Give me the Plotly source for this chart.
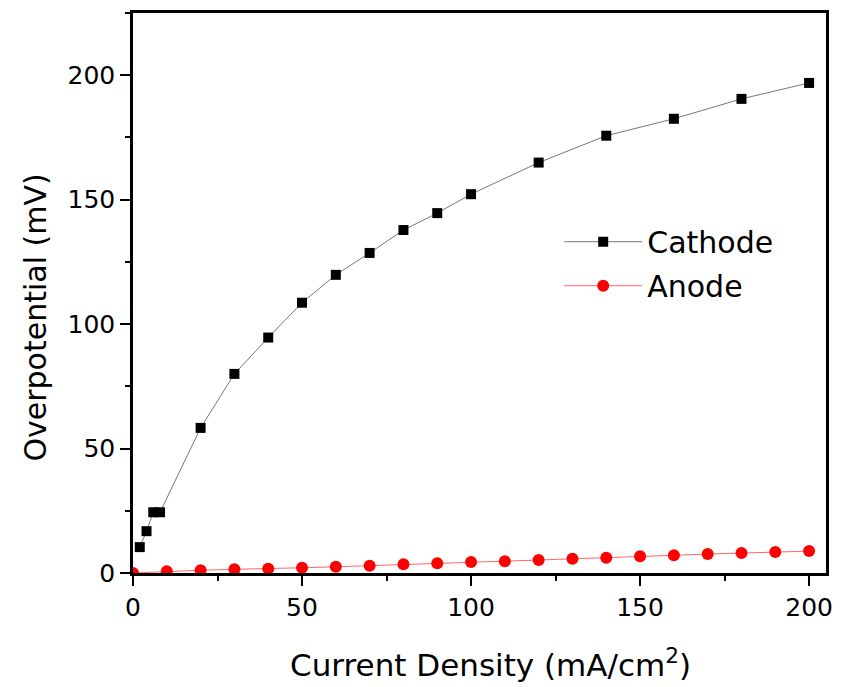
import plotly.graph_objects as go

cathode_x = [2, 4, 6, 8, 20, 30, 40, 50, 60, 70, 80, 90, 100, 120, 140, 160, 180, 200]
cathode_y = [10.4, 16.8, 24.4, 24.4, 58.3, 80.0, 94.6, 108.6, 119.8, 128.6, 137.8,
             144.6, 152.2, 164.9, 175.7, 182.5, 190.5, 196.9]

anode_x = [0, 10, 20, 30, 40, 50, 60, 70, 80, 90, 100, 110, 120, 130, 140, 150,
           160, 170, 180, 190, 200]
anode_y = [0.0, 0.7, 1.1, 1.5, 1.7, 2.1, 2.5, 2.9, 3.5, 3.9, 4.4, 4.7, 5.2, 5.7,
           6.1, 6.7, 7.1, 7.6, 8.0, 8.4, 8.8]

x_ticks = [0, 50, 100, 150, 200]
y_ticks = [0, 50, 100, 150, 200]

x_title = "Current Density (mA/cm<sup>2</sup>)"
y_title = "Overpotential (mV)"

FONT = "DejaVu Sans, Liberation Sans, Arial, sans-serif"

fig = go.Figure()
fig.add_trace(go.Scatter(
    x=cathode_x, y=cathode_y, name="Cathode", mode="lines+markers",
    legendgroup="c",
    line=dict(color="#777777", width=1),
    marker=dict(symbol="square", size=10, color="black"),
))
fig.add_trace(go.Scatter(
    x=anode_x, y=anode_y, name="Anode", mode="lines+markers",
    legendgroup="a",
    line=dict(color="#ff6666", width=1),
    marker=dict(symbol="circle", size=12, color="#ff0000"),
))

axis_common = dict(
    showline=True, linecolor="black", linewidth=2.5, mirror=True,
    ticks="outside", ticklen=10, tickwidth=2, tickcolor="black",
    showgrid=False, zeroline=False,
    tickfont=dict(family=FONT, size=25, color="black"),
    minor=dict(ticks="outside", ticklen=5, tickwidth=2, tickcolor="black", showgrid=False),
)

fig.update_xaxes(
    range=[0, 205], tickvals=x_ticks, ticktext=[str(v) for v in x_ticks],
    minor_dtick=25,
    **axis_common,
)
fig.update_yaxes(
    range=[0, 225], tickvals=y_ticks, ticktext=[str(v) for v in y_ticks],
    minor_dtick=25,
    **axis_common,
)

fig.add_annotation(
    text=x_title, xref="paper", yref="paper", x=0.516, y=-0.16,
    xanchor="center", yanchor="middle", showarrow=False,
    font=dict(family=FONT, size=31, color="black"),
)
fig.add_annotation(
    text=y_title, xref="paper", yref="paper", x=-0.140, y=0.456,
    xanchor="center", yanchor="middle", showarrow=False, textangle=-90,
    font=dict(family=FONT, size=30, color="black"),
)

fig.update_layout(
    width=843, height=687,
    margin=dict(l=133, r=12, t=10, b=114),
    plot_bgcolor="white", paper_bgcolor="white",
    showlegend=True,
    legend=dict(x=0.615, y=0.638, xanchor="left", yanchor="top",
                font=dict(family=FONT, size=30, color="black"),
                bgcolor="rgba(0,0,0,0)", itemwidth=78,
                traceorder="grouped", tracegroupgap=2),
)

fig.write_html("out.html")
